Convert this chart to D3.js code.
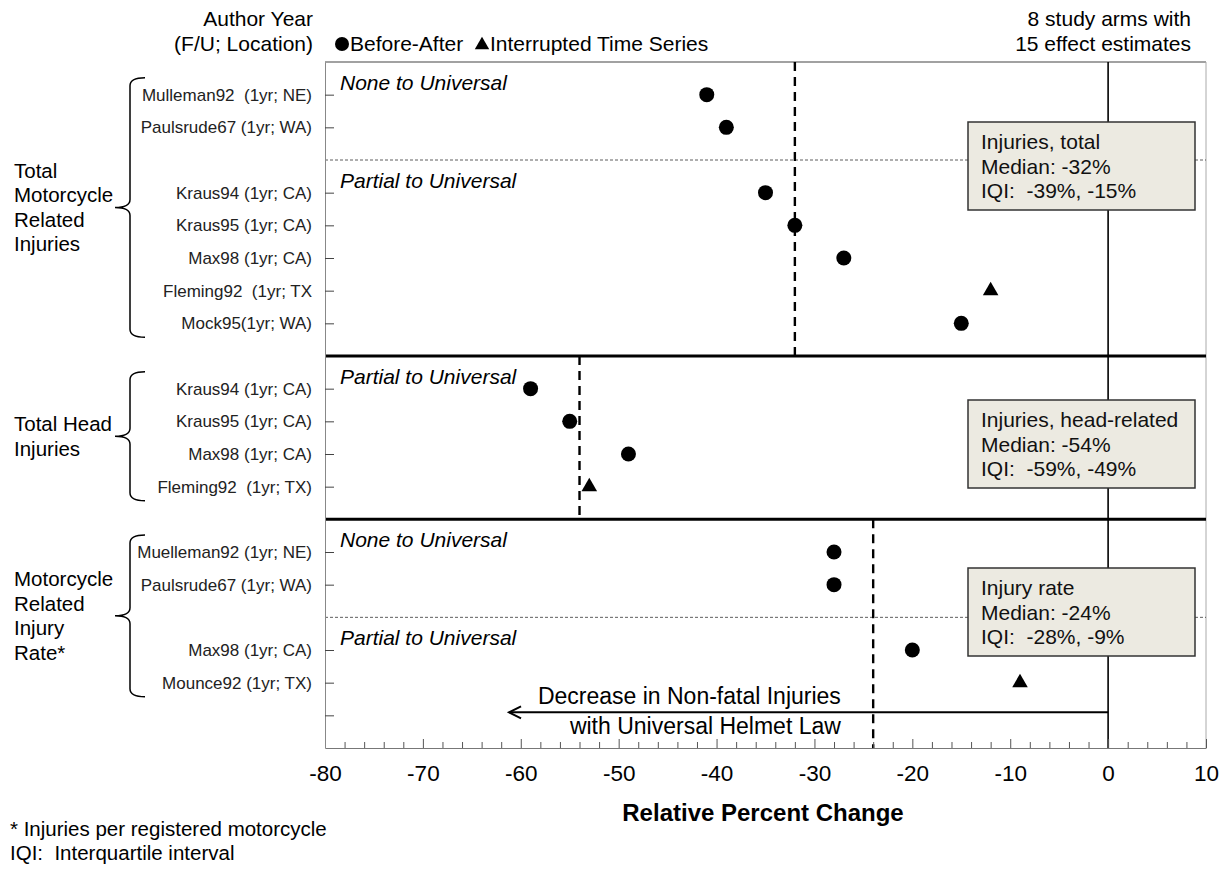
<!DOCTYPE html>
<html>
<head>
<meta charset="utf-8">
<script src="https://cdn.jsdelivr.net/npm/d3@7"></script>
<style>
  body { margin: 0; background: #fff; }
  svg { font-family: "Liberation Sans", Arial, sans-serif; }
  text { white-space: pre; }
</style>
</head>
<body>
<div id="chart"></div>
<script>
// ---- data ----
var groupNames = [
  ["Total", "Motorcycle", "Related", "Injuries"],
  ["Total Head", "Injuries"],
  ["Motorcycle", "Related", "Injury", "Rate*"]
];
var studyLabels = [
  "Mulleman92  (1yr; NE)", "Paulsrude67 (1yr; WA)", "Kraus94 (1yr; CA)", "Kraus95 (1yr; CA)",
  "Max98 (1yr; CA)", "Fleming92  (1yr; TX", "Mock95(1yr; WA)",
  "Kraus94 (1yr; CA)", "Kraus95 (1yr; CA)", "Max98 (1yr; CA)", "Fleming92  (1yr; TX)",
  "Muelleman92 (1yr; NE)", "Paulsrude67 (1yr; WA)", "Max98 (1yr; CA)", "Mounce92 (1yr; TX)"
];
var studyGroup = [0, 0, 0, 0, 0, 0, 0, 1, 1, 1, 1, 2, 2, 2, 2];
var studyPolicy = [
  "None to Universal", "None to Universal", "Partial to Universal", "Partial to Universal",
  "Partial to Universal", "Partial to Universal", "Partial to Universal",
  "Partial to Universal", "Partial to Universal", "Partial to Universal", "Partial to Universal",
  "None to Universal", "None to Universal", "Partial to Universal", "Partial to Universal"
];
var studyValues = [-41, -39, -35, -32, -27, -12, -15, -59, -55, -49, -53, -28, -28, -20, -9];
var studyDesign = ["BA", "BA", "BA", "BA", "BA", "ITS", "BA", "BA", "BA", "BA", "ITS", "BA", "BA", "BA", "ITS"];

var groupMedians = [-32, -54, -24];
var boxTitles = ["Injuries, total", "Injuries, head-related", "Injury rate"];
var boxIQI = [[-39, -15], [-59, -49], [-28, -9]];
var xTicks = [-80, -70, -60, -50, -40, -30, -20, -10, 0, 10];

// ---- layout ----
var W = 1227, H = 871;
var plotLeft = 325, plotRight = 1206, plotTop = 62, plotBottom = 748;

var svg = d3.select("#chart").append("svg")
  .attr("width", W).attr("height", H);

// build the row order: studies, dashed dividers between policy subgroups, thick lines between groups
var rowKeys = [], dividers = [], thickLines = [], subLabels = [], groupRows = [];
groupNames.forEach(function (g, gi) {
  if (gi > 0) { rowKeys.push("g" + gi); thickLines.push("g" + gi); }
  var idx = d3.range(studyLabels.length).filter(function (i) { return studyGroup[i] === gi; });
  var pols = Array.from(new Set(idx.map(function (i) { return studyPolicy[i]; })));
  pols.forEach(function (p, pi) {
    if (pi > 0) { rowKeys.push("d" + gi + pi); dividers.push("d" + gi + pi); }
    var members = idx.filter(function (i) { return studyPolicy[i] === p; });
    subLabels.push({ text: p, row: "s" + members[0] });
    members.forEach(function (i) { rowKeys.push("s" + i); });
  });
  groupRows.push({ first: "s" + idx[0], last: "s" + idx[idx.length - 1], group: gi });
});
rowKeys.push("end");

var x = d3.scaleLinear().domain([-80, 10]).range([plotLeft, plotRight]);
var y = d3.scalePoint().domain(rowKeys).range([plotTop, plotBottom]).padding(1);

// ---- frame ----
svg.append("line").attr("x1", plotLeft).attr("x2", plotRight).attr("y1", plotTop).attr("y2", plotTop)
  .attr("stroke", "#444").attr("stroke-width", 1.2);
svg.append("line").attr("x1", plotRight).attr("x2", plotRight).attr("y1", plotTop).attr("y2", plotBottom)
  .attr("stroke", "#aaa").attr("stroke-width", 1);

// dashed dividers
svg.append("g").selectAll("line").data(dividers).enter().append("line")
  .attr("x1", plotLeft).attr("x2", plotRight)
  .attr("y1", function (d) { return y(d); }).attr("y2", function (d) { return y(d); })
  .attr("stroke", "#333").attr("stroke-width", 0.8).attr("stroke-dasharray", "3,2");

// zero line
svg.append("line").attr("x1", x(0)).attr("x2", x(0)).attr("y1", plotTop).attr("y2", plotBottom)
  .attr("stroke", "#000").attr("stroke-width", 1.6);

// thick group separators
svg.append("g").selectAll("line").data(thickLines).enter().append("line")
  .attr("x1", plotLeft).attr("x2", plotRight)
  .attr("y1", function (d) { return y(d); }).attr("y2", function (d) { return y(d); })
  .attr("stroke", "#000").attr("stroke-width", 3);

// median dashed lines, one per group, spanning the group's band
var bands = [plotTop].concat(thickLines.map(function (d) { return y(d); })).concat([plotBottom]);
svg.append("g").selectAll("line").data(groupMedians).enter().append("line")
  .attr("x1", function (d) { return x(d); }).attr("x2", function (d) { return x(d); })
  .attr("y1", function (d, i) { return bands[i]; }).attr("y2", function (d, i) { return bands[i + 1]; })
  .attr("stroke", "#000").attr("stroke-width", 2.4).attr("stroke-dasharray", "9,6");

// x axis: ticks point inward
var xMinor = d3.range(-80, 10.1, 2);
svg.append("g").attr("transform", "translate(0," + plotBottom + ")")
  .call(d3.axisBottom(x).tickValues(xMinor).tickSizeInner(-6).tickSizeOuter(0).tickFormat(""))
  .call(function (g) {
    g.select(".domain").attr("stroke", "#777");
    g.selectAll(".tick line").attr("stroke", "#555")
      .attr("y2", function (d) { return d % 10 === 0 ? -9 : -6; });
  });
svg.append("g").attr("transform", "translate(0," + plotBottom + ")")
  .call(d3.axisBottom(x).tickValues(xTicks).tickSize(0).tickPadding(17)
    .tickFormat(function (d) { return String(d); }))
  .call(function (g) {
    g.select(".domain").remove();
    g.selectAll("text").attr("font-size", 22.5).attr("fill", "#000")
      .attr("font-family", "Liberation Sans, Arial, sans-serif");
  });
svg.append("text").attr("x", 763).attr("y", 813).attr("dy", "0.35em")
  .attr("text-anchor", "middle").attr("font-size", 24).attr("font-weight", "bold")
  .text("Relative Percent Change");

// y axis: study labels, ticks pointing inward
var yTickKeys = rowKeys.filter(function (k) { return k[0] === "s" || k === "end"; });
svg.append("g").attr("transform", "translate(" + plotLeft + ",0)")
  .call(d3.axisLeft(y).tickValues(yTickKeys).tickSizeInner(-9).tickSizeOuter(0).tickPadding(13)
    .tickFormat(function (k) { return k[0] === "s" ? studyLabels[+k.slice(1)] : ""; }))
  .call(function (g) {
    g.select(".domain").attr("stroke", "#888");
    g.selectAll(".tick line").attr("stroke", "#444");
    g.selectAll("text").attr("font-size", 17).attr("fill", "#222")
      .attr("font-family", "Liberation Sans, Arial, sans-serif");
  });

// policy sub-labels
svg.append("g").selectAll("text").data(subLabels).enter().append("text")
  .attr("x", plotLeft + 15).attr("y", function (d) { return y(d.row) - 12; })
  .attr("dy", "0.35em").attr("font-size", 21).attr("font-style", "italic")
  .text(function (d) { return d.text; });

// points
var pts = svg.append("g");
studyValues.forEach(function (v, i) {
  if (studyDesign[i] === "BA") {
    pts.append("circle").attr("cx", x(v)).attr("cy", y("s" + i)).attr("r", 7.5).attr("fill", "#000");
  } else {
    pts.append("path").attr("d", d3.symbol().type(d3.symbolTriangle).size(105)())
      .attr("transform", "translate(" + x(v) + "," + y("s" + i) + ")").attr("fill", "#000");
  }
});

// summary boxes
var boxTops = [122, 400, 568];
boxTitles.forEach(function (t, i) {
  var g = svg.append("g").attr("transform", "translate(968," + boxTops[i] + ")");
  g.append("rect").attr("width", 227).attr("height", 88)
    .attr("fill", "#ECEAE1").attr("stroke", "#333").attr("stroke-width", 1.5);
  var lines = [t, "Median: " + groupMedians[i] + "%", "IQI:  " + boxIQI[i][0] + "%, " + boxIQI[i][1] + "%"];
  g.selectAll("text").data(lines).enter().append("text")
    .attr("x", 13).attr("y", function (d, j) { return 20 + j * 24.5; }).attr("dy", "0.35em")
    .attr("font-size", 21).attr("fill", "#111").text(function (d) { return d; });
});

// group braces and labels
groupRows.forEach(function (r) {
  var t = y(r.first) - 17, b = y(r.last) + 14, m = (t + b) / 2;
  var bx = 130;
  svg.append("path")
    .attr("d", "M145," + t + " Q" + bx + "," + t + " " + bx + "," + (t + 8) +
      " L" + bx + "," + (m - 8) + " Q" + bx + "," + m + " 115," + m +
      " Q" + bx + "," + m + " " + bx + "," + (m + 8) +
      " L" + bx + "," + (b - 8) + " Q" + bx + "," + b + " 145," + b)
    .attr("fill", "none").attr("stroke", "#000").attr("stroke-width", 1.5);
  var lines = groupNames[r.group];
  svg.append("g").selectAll("text").data(lines).enter().append("text")
    .attr("x", 14).attr("y", function (d, j) { return m + (j - (lines.length - 1) / 2) * 24.5; })
    .attr("dy", "0.35em").attr("font-size", 20.5).text(function (d) { return d; });
});

// header texts and legend
svg.append("text").attr("x", 313).attr("y", 19).attr("dy", "0.35em").attr("text-anchor", "end")
  .attr("font-size", 21).text("Author Year");
svg.append("text").attr("x", 313).attr("y", 44).attr("dy", "0.35em").attr("text-anchor", "end")
  .attr("font-size", 21).text("(F/U; Location)");
svg.append("text").attr("x", 1191).attr("y", 19).attr("dy", "0.35em").attr("text-anchor", "end")
  .attr("font-size", 21).text("8 study arms with");
svg.append("text").attr("x", 1191).attr("y", 44).attr("dy", "0.35em").attr("text-anchor", "end")
  .attr("font-size", 21).text("15 effect estimates");
svg.append("circle").attr("cx", 342).attr("cy", 44).attr("r", 7).attr("fill", "#000");
svg.append("text").attr("x", 350).attr("y", 44).attr("dy", "0.35em").attr("font-size", 21).text("Before-After");
svg.append("path").attr("d", d3.symbol().type(d3.symbolTriangle).size(90)())
  .attr("transform", "translate(482,45)").attr("fill", "#000");
svg.append("text").attr("x", 490).attr("y", 44).attr("dy", "0.35em").attr("font-size", 21).text("Interrupted Time Series");

// direction arrow
var ay = y("end") - 3;
svg.append("line").attr("x1", x(0)).attr("x2", x(-61.2)).attr("y1", ay).attr("y2", ay)
  .attr("stroke", "#000").attr("stroke-width", 2);
svg.append("path")
  .attr("d", "M" + (x(-61.2) + 12) + "," + (ay - 6) + " L" + x(-61.2) + "," + ay + " L" + (x(-61.2) + 12) + "," + (ay + 6))
  .attr("fill", "none").attr("stroke", "#000").attr("stroke-width", 2);
svg.append("text").attr("x", x(-27.3)).attr("y", ay - 16).attr("dy", "0.35em").attr("text-anchor", "end")
  .attr("font-size", 23).text("Decrease in Non-fatal Injuries");
svg.append("text").attr("x", x(-27.3)).attr("y", ay + 14).attr("dy", "0.35em").attr("text-anchor", "end")
  .attr("font-size", 23).text("with Universal Helmet Law");

// footnotes
svg.append("text").attr("x", 10).attr("y", 829).attr("dy", "0.35em").attr("font-size", 20.5)
  .text("* Injuries per registered motorcycle");
svg.append("text").attr("x", 10).attr("y", 853).attr("dy", "0.35em").attr("font-size", 20.5)
  .text("IQI:  Interquartile interval");
</script>
</body>
</html>
